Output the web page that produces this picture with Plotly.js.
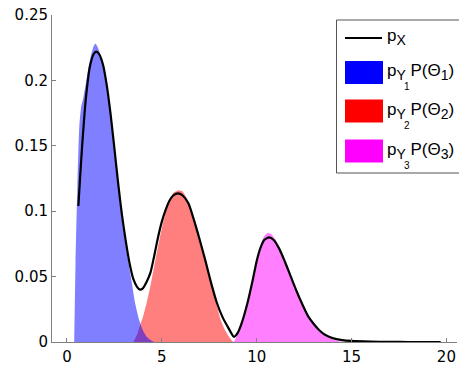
<!DOCTYPE html>
<html>
<head>
<meta charset="utf-8">
<script src="https://cdn.plot.ly/plotly-3.0.1.min.js"></script>
<style>html,body{margin:0;padding:0;background:#fff;}#chart{width:459px;height:366px;}</style>
</head>
<body>
<div id="chart"></div>
<script>
// p_X (black mixture density)
const pxX = [0.6,0.7,0.8,0.9,1.0,1.2,1.4,1.55,1.7,1.9,2.1,2.3,2.5,2.7,2.9,3.1,3.3,3.5,3.7,3.85,4.0,4.2,4.4,4.6,4.8,5.0,5.2,5.4,5.6,5.85,6.1,6.4,6.7,7.0,7.3,7.6,7.9,8.2,8.5,8.8,9.0,9.2,9.5,9.8,10.0,10.2,10.4,10.65,10.9,11.2,11.5,11.8,12.1,12.4,12.7,13.0,13.3,13.6,14.0,14.5,15,16,17,18,19.7];
const pxY = [0.104,0.128,0.150,0.170,0.187,0.210,0.220,0.222,0.220,0.212,0.196,0.174,0.148,0.121,0.097,0.077,0.060,0.048,0.042,0.040,0.041,0.046,0.053,0.066,0.080,0.092,0.101,0.108,0.112,0.1136,0.112,0.106,0.093,0.078,0.062,0.045,0.030,0.019,0.011,0.004,0.007,0.014,0.029,0.048,0.062,0.072,0.078,0.080,0.078,0.071,0.061,0.050,0.039,0.029,0.020,0.014,0.009,0.0055,0.003,0.0015,0.0008,0.0003,0.0001,0.0,0.0];
// p_Y1 P(Theta1) (blue)
const b1X = [0.38,0.45,0.55,0.65,0.75,0.85,1.0,1.2,1.4,1.5,1.6,1.8,2.0,2.2,2.4,2.6,2.8,3.0,3.2,3.4,3.6,3.8,4.0,4.2,4.4,4.6];
const b1Y = [0,0.06,0.12,0.165,0.180,0.186,0.198,0.215,0.226,0.228,0.226,0.218,0.203,0.184,0.160,0.133,0.106,0.083,0.064,0.047,0.029,0.017,0.009,0.004,0.0015,0];
// p_Y2 P(Theta2) (red)
const r2X = [3.5,3.7,3.9,4.0,4.2,4.4,4.6,4.8,5.0,5.2,5.4,5.6,5.8,5.9,6.1,6.3,6.5,6.7,7.0,7.3,7.6,7.9,8.1,8.3,8.5,8.7,8.8];
const r2Y = [0,0.006,0.015,0.019,0.030,0.043,0.058,0.073,0.087,0.099,0.108,0.114,0.1155,0.116,0.115,0.110,0.102,0.093,0.078,0.061,0.044,0.028,0.017,0.010,0.005,0.001,0];
// p_Y3 P(Theta3) (magenta)
const m3X = [8.8,9.0,9.2,9.5,9.8,10.0,10.2,10.4,10.6,10.8,11.0,11.2,11.5,11.8,12.1,12.4,12.7,13.0,13.3,13.6,14.0,14.3,14.5];
const m3Y = [0,0.006,0.013,0.029,0.049,0.063,0.074,0.081,0.0835,0.082,0.078,0.072,0.061,0.050,0.039,0.029,0.020,0.013,0.008,0.0045,0.002,0.0008,0];

const xTicks = [0,5,10,15,20];
const yTicks = [0,0.05,0.1,0.15,0.2,0.25];
const yTickText = ['0','0.05','0.1','0.15','0.2','0.25'];
const legendBase = ['X', 'Y', 'Y', 'Y'];
const legendIdx = ['', '1', '2', '3'];
const legendColors = ['#000000','#0000ff','#ff0000','#ff00ff'];

const TFONT = 'DejaVu Sans, Verdana, sans-serif';
const LFONT = 'Liberation Sans, Arial, Helvetica, sans-serif';
const W = 459, H = 366, ML = 52, MR = 2, MT = 15, MB = 24;
const PW = W - ML - MR, PH = H - MT - MB;
const px2x = p => (p - ML) / PW;
const py2y = p => (H - MB - p) / PH;

const traces = [
  {x: r2X, y: r2Y, type: 'scatter', mode: 'none', fill: 'tozeroy', fillcolor: 'rgba(255,0,0,0.5)', line: {shape: 'spline', smoothing: 0.6}, showlegend: false, hoverinfo: 'skip'},
  {x: m3X, y: m3Y, type: 'scatter', mode: 'none', fill: 'tozeroy', fillcolor: 'rgba(255,0,255,0.5)', line: {shape: 'spline', smoothing: 0.6}, showlegend: false, hoverinfo: 'skip'},
  {x: b1X, y: b1Y, type: 'scatter', mode: 'none', fill: 'tozeroy', fillcolor: 'rgba(0,0,255,0.5)', line: {shape: 'spline', smoothing: 0.6}, showlegend: false, hoverinfo: 'skip'},
  {x: pxX, y: pxY, type: 'scatter', mode: 'lines', line: {color: '#000', width: 2.2, shape: 'spline', smoothing: 0.6}, showlegend: false, hoverinfo: 'skip'}
];

// Legend drawn as shapes + annotations
const shapes = [
  {type: 'rect', xref: 'paper', yref: 'paper', x0: px2x(336.5), x1: px2x(470), y0: py2y(173), y1: py2y(20),
   line: {color: '#555', width: 1}, fillcolor: '#fff', layer: 'above'},
  {type: 'line', xref: 'paper', yref: 'paper', x0: px2x(345), x1: px2x(382), y0: py2y(38), y1: py2y(38),
   line: {color: legendColors[0], width: 2}, layer: 'above'}
];
const swTops = [61, 99.5, 139.5];
for (let i = 0; i < 3; i++) {
  shapes.push({type: 'rect', xref: 'paper', yref: 'paper', x0: px2x(345), x1: px2x(383), y0: py2y(swTops[i] + 23), y1: py2y(swTops[i]),
    line: {width: 0}, fillcolor: legendColors[i + 1], layer: 'above'});
}
const labelY = [37, 72, 111, 151];
const SUB = s => '<sub><span style="font-size:14px">' + s + '</span></sub>';
const annotations = [];
for (let i = 0; i < 4; i++) {
  let t = 'p' + SUB(legendBase[i]);
  if (i > 0) t += '\u00a0P(Θ' + SUB(legendIdx[i]) + ')';
  annotations.push({xref: 'paper', yref: 'paper', x: px2x(385), y: py2y(labelY[i]), xanchor: 'left', yanchor: 'middle',
    text: t, showarrow: false, font: {family: LFONT, size: 17, color: '#000'}});
  if (i > 0) {
    annotations.push({xref: 'paper', yref: 'paper', x: px2x(406.5), y: py2y(labelY[i] + 14.5), xanchor: 'center', yanchor: 'middle',
      text: legendIdx[i], showarrow: false, font: {family: LFONT, size: 10, color: '#000'}});
  }
}

const layout = {
  width: W, height: H,
  margin: {l: ML, r: MR, t: MT, b: MB, pad: 0},
  paper_bgcolor: '#fff', plot_bgcolor: '#fff',
  font: {family: TFONT, size: 15, color: '#000'},
  xaxis: {range: [-0.79, 20.56], tickvals: xTicks, ticktext: xTicks.map(String),
    showgrid: false, zeroline: false, showline: true, linecolor: '#808080', linewidth: 1,
    ticks: 'inside', ticklen: 4, tickcolor: '#808080', ticklabelstandoff: 1,
    tickfont: {family: TFONT, size: 15, color: '#000'}},
  yaxis: {range: [0, 0.25], tickvals: yTicks, ticktext: yTickText,
    showgrid: false, zeroline: false, showline: true, linecolor: '#808080', linewidth: 1,
    ticks: 'inside', ticklen: 4, tickcolor: '#808080', ticklabelstandoff: -6.5,
    tickfont: {family: TFONT, size: 15, color: '#000'}},
  shapes: shapes,
  annotations: annotations,
  showlegend: false
};

Plotly.newPlot('chart', traces, layout, {staticPlot: true, displayModeBar: false});
</script>
</body>
</html>
